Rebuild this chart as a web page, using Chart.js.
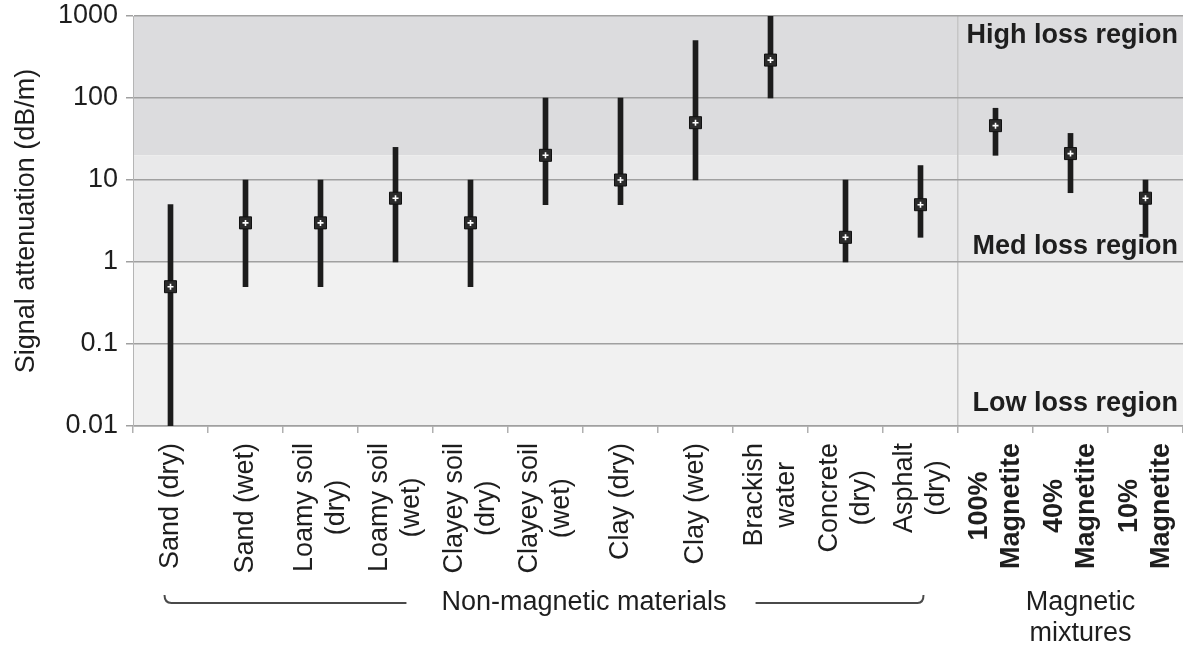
<!DOCTYPE html>
<html><head><meta charset="utf-8">
<script src="https://cdn.jsdelivr.net/npm/chart.js@4"></script>
<style>html,body{margin:0;padding:0;background:#fff;}canvas{display:block;}</style>
</head><body>
<canvas id="c" width="1183" height="649"></canvas>
<script>
const categories = [["Sand (dry)"],["Sand (wet)"],["Loamy soil","(dry)"],["Loamy soil","(wet)"],["Clayey soil","(dry)"],["Clayey soil","(wet)"],["Clay (dry)"],["Clay (wet)"],["Brackish","water"],["Concrete","(dry)"],["Asphalt","(dry)"],["100%","Magnetite"],["40%","Magnetite"],["10%","Magnetite"]];
const typical = [0.5, 3, 3, 6, 3, 20, 10, 50, 290, 2, 5, 46, 21, 6];
const lowVal  = [0.01, 0.5, 0.5, 1, 0.5, 5, 5, 10, 100, 1, 2, 20, 7, 2];
const highVal = [5, 10, 10, 25, 10, 100, 100, 500, 1000, 10, 15, 75, 37, 10];
const magneticFrom = 11;
const yTicks = [0.01, 0.1, 1, 10, 100, 1000];
const highLossFrom = 20;
const medLossFrom = 1;
const regionLabels = ["High loss region", "Med loss region", "Low loss region"];
const groupLabels = ["Non-magnetic materials", ["Magnetic", "mixtures"]];
const yTitle = "Signal attenuation (dB/m)";

const FONT = '"Liberation Sans", Arial, sans-serif';
const TXT = '#1e1e1e';

const bgPlugin = {
  id: 'bg',
  beforeDraw(chart) {
    const {ctx, chartArea: a, scales: {y}} = chart;
    ctx.save();
    ctx.fillStyle = '#fff';
    ctx.fillRect(0, 0, chart.width, chart.height);
    const yh = y.getPixelForValue(highLossFrom), ym = y.getPixelForValue(medLossFrom);
    ctx.fillStyle = '#dcdcde'; ctx.fillRect(a.left, a.top, a.right - a.left, yh - a.top);
    ctx.fillStyle = '#e9e9ea'; ctx.fillRect(a.left, yh, a.right - a.left, ym - yh);
    ctx.fillStyle = '#f1f1f1'; ctx.fillRect(a.left, ym, a.right - a.left, a.bottom - ym);
    ctx.restore();
  },
  afterDraw(chart) {
    const {ctx, chartArea: a, scales: {x, y}} = chart;
    ctx.save();
    const lh = 32;
    categories.forEach((lines, i) => {
      const bold = i >= magneticFrom;
      ctx.font = (bold ? 'bold ' : '') + '27px ' + FONT;
      const maxW = Math.max(...lines.map(l => ctx.measureText(l).width));
      const px = x.getPixelForValue(i);
      ctx.save();
      ctx.translate(px, a.bottom + 17);
      ctx.rotate(-Math.PI / 2);
      ctx.fillStyle = TXT;
      ctx.textAlign = 'center';
      ctx.textBaseline = 'middle';
      lines.forEach((l, k) => {
        ctx.fillText(l, -maxW / 2, (k - (lines.length - 1) / 2) * lh);
      });
      ctx.restore();
    });
    ctx.font = 'bold 27px ' + FONT;
    ctx.fillStyle = TXT;
    ctx.textAlign = 'right';
    ctx.textBaseline = 'middle';
    const rx = a.right - 5;
    ctx.fillText(regionLabels[0], rx, a.top + 20);
    ctx.fillText(regionLabels[1], rx, y.getPixelForValue(medLossFrom) - 15);
    ctx.fillText(regionLabels[2], rx, a.bottom - 22);
    ctx.font = '27px ' + FONT;
    ctx.textAlign = 'center';
    const gy = 603;
    const tc = (x.getPixelForValue(5) + x.getPixelForValue(6)) / 2 + 1;
    const tw = ctx.measureText(groupLabels[0]).width;
    ctx.fillText(groupLabels[0], tc, gy);
    const mc = x.getPixelForValue(12) + 10;
    ctx.fillText(groupLabels[1][0], mc, gy);
    ctx.fillText(groupLabels[1][1], mc, gy + 31);
    ctx.strokeStyle = '#4a4a4a';
    ctx.lineWidth = 2;
    const lx0 = x.getPixelForValue(0) - 6, lx1 = tc - tw / 2 - 35;
    ctx.beginPath();
    ctx.moveTo(lx0, gy - 8);
    ctx.quadraticCurveTo(lx0, gy, lx0 + 7, gy);
    ctx.lineTo(lx1, gy);
    ctx.stroke();
    const rx0 = tc + tw / 2 + 29, rx1 = x.getPixelForValue(10) + 3;
    ctx.beginPath();
    ctx.moveTo(rx0, gy);
    ctx.lineTo(rx1 - 6, gy);
    ctx.quadraticCurveTo(rx1, gy, rx1, gy - 8);
    ctx.stroke();
    ctx.restore();
  }
};

new Chart(document.getElementById('c'), {
  type: 'bar',
  data: {
    labels: categories.map(c => c.join(' ')),
    datasets: [
      {
        type: 'line', order: 0, data: typical, showLine: false,
        pointStyle: 'cross', pointRadius: 3, pointBorderColor: '#fff', pointBorderWidth: 1.6,
        pointBackgroundColor: '#fff'
      },
      {
        type: 'line', order: 1, data: typical, showLine: false,
        pointStyle: 'rect', pointRadius: 8.5, pointBackgroundColor: '#2b2b2b',
        pointBorderColor: '#111', pointBorderWidth: 1
      },
      {
        type: 'bar', order: 2, data: lowVal.map((l, i) => [l, highVal[i]]),
        backgroundColor: '#1c1c1c', borderWidth: 0, barThickness: 5
      }
    ]
  },
  options: {
    responsive: false,
    animation: false,
    layout: { autoPadding: false, padding: { top: 16, left: 0, right: 0, bottom: 0 } },
    plugins: { legend: { display: false }, tooltip: { enabled: false } },
    scales: {
      x: {
        offset: true,
        grid: {
          offset: true,
          drawOnChartArea: true,
          color: ctx => ctx.index === magneticFrom ? '#c6c6c6' : 'rgba(0,0,0,0)',
          tickColor: '#b0b0b0',
          tickLength: 7,
          lineWidth: 1.5
        },
        border: { display: true, color: '#a0a0a0', width: 1.5 },
        ticks: { display: false },
        afterFit: s => { s.height = 223; s.paddingLeft = 0; s.paddingRight = 0; }
      },
      y: {
        type: 'logarithmic',
        min: yTicks[0],
        max: yTicks[yTicks.length - 1],
        afterBuildTicks: s => { s.ticks = yTicks.map(v => ({ value: v })); },
        afterFit: s => { s.width = 133; s.paddingTop = 0; s.paddingBottom = 0; },
        grid: { color: '#a0a0a0', lineWidth: 1.5, tickLength: 7, tickColor: '#a0a0a0' },
        border: { display: true, color: '#b5b5b5', width: 1 },
        ticks: {
          font: { size: 27, family: FONT },
          color: TXT,
          padding: 8,
          callback: v => String(v)
        },
        title: {
          display: true,
          text: yTitle,
          font: { size: 27, family: FONT },
          color: TXT,
          padding: { top: 10, bottom: 0 }
        }
      }
    }
  },
  plugins: [bgPlugin]
});
</script>
</body></html>
